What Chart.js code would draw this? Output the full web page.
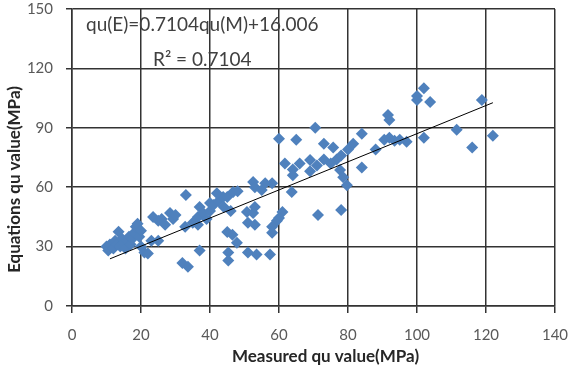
<!DOCTYPE html>
<html>
<head>
<meta charset="utf-8">
<script src="https://cdn.jsdelivr.net/npm/chart.js@4"></script>
<style>
  html, body { margin: 0; padding: 0; background: #fff; }
  #wrap { width: 568px; height: 366px; }
</style>
</head>
<body>
<div id="wrap"><canvas id="quChart" width="568" height="366"></canvas></div>
<script>
// measured qu (MPa) vs qu from equations (MPa)
const measuredQu = [10, 10.5, 11, 12, 12.5, 13, 13.5, 14, 14.5, 15, 15.5, 16, 16.5, 17, 17.5, 18, 18.5, 19, 19.5, 20,
  20, 21, 22, 23, 23.5, 25, 26, 27, 28.4, 29.3, 30, 25, 32.8, 33, 32, 33.6, 37, 36.5, 36.5, 37,
  38, 39, 40, 40, 41, 42.5, 43.8, 45, 46.7, 44, 46, 45, 46.5, 47.8, 45.3, 45.3, 50.7, 52.5, 53, 51,
  53, 51, 53.5, 57.4, 52.5, 53, 55, 58, 63.7, 61, 59.4, 58, 58, 60, 61.7, 64, 66, 69, 71, 73,
  69, 64, 60, 65, 70.5, 71.3, 73, 75.7, 76.7, 75, 77.7, 78.6, 79.7, 78, 80, 81.5, 84, 84, 88, 78,
  90.5, 92, 93.5, 95, 97, 91.6, 92, 100, 100, 102, 103.8, 102, 111.5, 116, 118.8, 122, 48, 42, 35, 56];
const equationQu = [30, 28, 31, 29, 33, 31, 37.5, 30, 34, 32, 29, 33, 35, 31, 34, 37, 40, 41.5, 35, 38,
  30, 27, 26.5, 33, 45, 43, 44, 41, 47, 44, 46, 33, 40, 56, 21.7, 19.8, 28, 41, 45, 50,
  47, 44, 48, 52, 51, 53, 55, 55, 57.6, 50, 48, 37.4, 36, 32, 27, 23, 47.5, 47, 50, 42,
  41, 27, 26, 26, 62.6, 60, 58.6, 62, 57.6, 47.5, 43, 40, 37, 44.5, 72, 69, 72, 73.7, 71, 74,
  68, 66, 84.5, 84, 90, 46, 82, 80, 74, 72, 68.7, 65, 61, 76, 79, 82, 87, 70, 79, 48.5,
  84, 85, 83.5, 84, 83, 96.5, 94, 104, 106, 110, 103, 85, 89, 80, 104, 86, 58, 57, 42, 62];

// linear trendline from the reference
const slope = 0.7104;
const intercept = 16.006;
const rSquared = '0.7104';
const trendFrom = 11;
const trendTo = 122;

const xTicks = [0, 20, 40, 60, 80, 100, 120, 140];
const yTicks = [0, 30, 60, 90, 120, 150];
const xTitle = 'Measured qu value(MPa)';
const yTitle = 'Equations qu value(MPa)';

const points = measuredQu.map((x, i) => ({ x: x, y: equationQu[i] }));
const trend = [trendFrom, trendTo].map(x => ({ x: x, y: slope * x + intercept }));

const gridColor = '#333';
const labelColor = '#595959';
const fontFamily = 'Lato, "Open Sans", sans-serif';

// equation, R² and axis titles (placed like the excel original)
const chartTexts = {
    id: 'chartTexts',
    afterDraw(chart) {
        const ctx = chart.ctx;
        const area = chart.chartArea;
        ctx.save();
        ctx.fillStyle = '#404040';
        ctx.font = '19px ' + fontFamily;
        ctx.textBaseline = 'middle';
        ctx.textAlign = 'left';
        ctx.fillText('qu(E)=' + slope + 'qu(M)+' + intercept, 86, 25);
        ctx.fillText('R\u00B2 = ' + rSquared, 153, 60);

        ctx.fillStyle = '#262626';
        ctx.font = 'bold 17px ' + fontFamily;
        ctx.textAlign = 'center';
        ctx.fillText(xTitle, (area.left + area.right) / 2 + 12, 357);
        ctx.translate(15, (area.top + area.bottom) / 2 + 22);
        ctx.rotate(-Math.PI / 2);
        ctx.fillText(yTitle, 0, 0);
        ctx.restore();
    }
};

new Chart(document.getElementById('quChart').getContext('2d'), {
    type: 'scatter',
    data: {
        datasets: [{
            type: 'line',
            data: trend,
            borderColor: '#000',
            borderWidth: 1,
            pointRadius: 0,
            fill: false,
            order: 0
        }, {
            data: points,
            pointStyle: 'rectRot',
            pointRadius: 6,
            pointHoverRadius: 6,
            backgroundColor: '#4F81BD',
            borderColor: '#4F81BD',
            borderWidth: 0,
            order: 1
        }]
    },
    options: {
        responsive: false,
        animation: false,
        layout: { padding: { top: 9, right: 13, left: 0, bottom: 0 } },
        plugins: {
            legend: { display: false },
            tooltip: { enabled: false }
        },
        scales: {
            x: {
                type: 'linear',
                min: 0,
                max: 140,
                afterBuildTicks: s => { s.ticks = xTicks.map(v => ({ value: v })); },
                afterFit: s => {
                    s.height = 60;
                    s.paddingLeft = 0;
                    s.paddingRight = 0;
                },
                grid: { color: gridColor, lineWidth: 1.5, tickLength: 7 },
                border: { color: gridColor, width: 1.5 },
                ticks: { color: labelColor, padding: 13, font: { family: fontFamily, size: 15 } },
                title: { display: false }
            },
            y: {
                type: 'linear',
                min: 0,
                max: 150,
                afterBuildTicks: s => { s.ticks = yTicks.map(v => ({ value: v })); },
                afterFit: s => {
                    s.width = 72;
                    s.paddingTop = 0;
                    s.paddingBottom = 0;
                },
                grid: { color: gridColor, lineWidth: 1.5, tickLength: 6 },
                border: { color: gridColor, width: 1.5 },
                ticks: { color: labelColor, padding: 13, font: { family: fontFamily, size: 15 } },
                title: { display: false }
            }
        }
    },
    plugins: [chartTexts]
});
</script>
</body>
</html>
